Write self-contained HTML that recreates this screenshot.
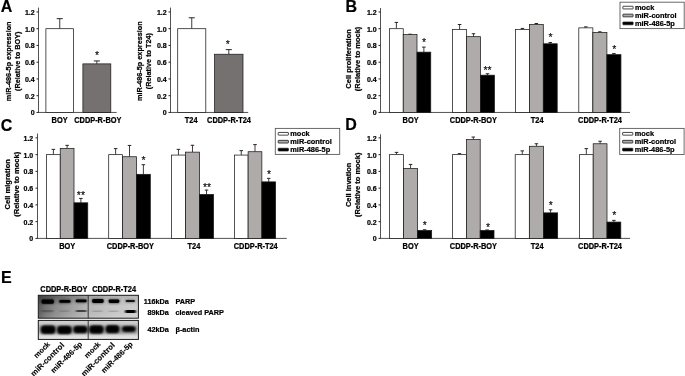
<!DOCTYPE html>
<html><head><meta charset="utf-8"><title>Figure</title>
<style>
html,body{margin:0;padding:0;background:#fff;}
svg{display:block;will-change:transform;}
text{fill:#000;stroke:#000;stroke-width:0.22px;stroke-linejoin:round;}
text.st{stroke:#222;stroke-width:0.15px;}
text.lt{stroke-width:0.1px;}
</style></head><body>
<svg width="685" height="376" viewBox="0 0 685 376">
<rect x="0" y="0" width="685" height="376" fill="#fff"/>
<text transform="translate(0.70,11.90) scale(1,1.03)" font-size="16" text-anchor="start" font-family="Liberation Sans, sans-serif" font-weight="bold">A</text>
<line x1="38.5" y1="7.6" x2="38.5" y2="112.45" stroke="#1a1a1a" stroke-width="0.75"/>
<line x1="38.1" y1="112.45" x2="116.7" y2="112.45" stroke="#1a1a1a" stroke-width="0.75"/>
<line x1="36.5" y1="112.45" x2="38.5" y2="112.45" stroke="#1a1a1a" stroke-width="0.95"/>
<text transform="translate(34.70,115.45)" font-size="7.0" text-anchor="end" font-family="Liberation Sans, sans-serif" font-weight="bold">0</text>
<line x1="36.5" y1="95.70" x2="38.5" y2="95.70" stroke="#1a1a1a" stroke-width="0.95"/>
<text transform="translate(34.70,98.70)" font-size="7.0" text-anchor="end" font-family="Liberation Sans, sans-serif" font-weight="bold">0.2</text>
<line x1="36.5" y1="78.95" x2="38.5" y2="78.95" stroke="#1a1a1a" stroke-width="0.95"/>
<text transform="translate(34.70,81.95)" font-size="7.0" text-anchor="end" font-family="Liberation Sans, sans-serif" font-weight="bold">0.4</text>
<line x1="36.5" y1="62.20" x2="38.5" y2="62.20" stroke="#1a1a1a" stroke-width="0.95"/>
<text transform="translate(34.70,65.20)" font-size="7.0" text-anchor="end" font-family="Liberation Sans, sans-serif" font-weight="bold">0.6</text>
<line x1="36.5" y1="45.45" x2="38.5" y2="45.45" stroke="#1a1a1a" stroke-width="0.95"/>
<text transform="translate(34.70,48.45)" font-size="7.0" text-anchor="end" font-family="Liberation Sans, sans-serif" font-weight="bold">0.8</text>
<line x1="36.5" y1="28.70" x2="38.5" y2="28.70" stroke="#1a1a1a" stroke-width="0.95"/>
<text transform="translate(34.70,31.70)" font-size="7.0" text-anchor="end" font-family="Liberation Sans, sans-serif" font-weight="bold">1.0</text>
<line x1="36.5" y1="11.95" x2="38.5" y2="11.95" stroke="#1a1a1a" stroke-width="0.95"/>
<text transform="translate(34.70,14.95)" font-size="7.0" text-anchor="end" font-family="Liberation Sans, sans-serif" font-weight="bold">1.2</text>
<line x1="59.75" y1="18.65" x2="59.75" y2="28.70" stroke="#1a1a1a" stroke-width="0.85"/>
<line x1="56.70" y1="18.65" x2="62.80" y2="18.65" stroke="#1a1a1a" stroke-width="0.95"/>
<rect x="45.90" y="28.70" width="27.70" height="83.75" fill="#fff" stroke="#1a1a1a" stroke-width="0.75"/>
<line x1="96.85" y1="60.94" x2="96.85" y2="63.88" stroke="#1a1a1a" stroke-width="0.85"/>
<line x1="93.80" y1="60.94" x2="99.90" y2="60.94" stroke="#1a1a1a" stroke-width="0.95"/>
<rect x="82.90" y="63.88" width="27.90" height="48.57" fill="#767171" stroke="#1a1a1a" stroke-width="0.75"/>
<text x="97.10" y="58.50" font-size="10.5" text-anchor="middle" class="st" font-family="Liberation Sans, sans-serif" fill="#222">*</text>
<text transform="translate(59.60,123.30) scale(1,1.13)" font-size="7.4" text-anchor="middle" font-family="Liberation Sans, sans-serif" font-weight="bold">BOY</text>
<text transform="translate(97.80,123.30) scale(1,1.13)" font-size="7.4" text-anchor="middle" font-family="Liberation Sans, sans-serif" font-weight="bold">CDDP-R-BOY</text>
<text transform="translate(10.80,61.30) rotate(-90) scale(1,1.05)" font-size="7.3" text-anchor="middle" font-family="Liberation Sans, sans-serif" font-weight="bold">miR-486-5p expression</text>
<text transform="translate(19.60,61.30) rotate(-90) scale(1,1.05)" font-size="7.3" text-anchor="middle" font-family="Liberation Sans, sans-serif" font-weight="bold">(Relative to BOY)</text>
<line x1="170.5" y1="7.6" x2="170.5" y2="112.45" stroke="#1a1a1a" stroke-width="0.75"/>
<line x1="170.1" y1="112.45" x2="248.2" y2="112.45" stroke="#1a1a1a" stroke-width="0.75"/>
<line x1="168.5" y1="112.45" x2="170.5" y2="112.45" stroke="#1a1a1a" stroke-width="0.95"/>
<text transform="translate(166.70,115.45)" font-size="7.0" text-anchor="end" font-family="Liberation Sans, sans-serif" font-weight="bold">0</text>
<line x1="168.5" y1="95.70" x2="170.5" y2="95.70" stroke="#1a1a1a" stroke-width="0.95"/>
<text transform="translate(166.70,98.70)" font-size="7.0" text-anchor="end" font-family="Liberation Sans, sans-serif" font-weight="bold">0.2</text>
<line x1="168.5" y1="78.95" x2="170.5" y2="78.95" stroke="#1a1a1a" stroke-width="0.95"/>
<text transform="translate(166.70,81.95)" font-size="7.0" text-anchor="end" font-family="Liberation Sans, sans-serif" font-weight="bold">0.4</text>
<line x1="168.5" y1="62.20" x2="170.5" y2="62.20" stroke="#1a1a1a" stroke-width="0.95"/>
<text transform="translate(166.70,65.20)" font-size="7.0" text-anchor="end" font-family="Liberation Sans, sans-serif" font-weight="bold">0.6</text>
<line x1="168.5" y1="45.45" x2="170.5" y2="45.45" stroke="#1a1a1a" stroke-width="0.95"/>
<text transform="translate(166.70,48.45)" font-size="7.0" text-anchor="end" font-family="Liberation Sans, sans-serif" font-weight="bold">0.8</text>
<line x1="168.5" y1="28.70" x2="170.5" y2="28.70" stroke="#1a1a1a" stroke-width="0.95"/>
<text transform="translate(166.70,31.70)" font-size="7.0" text-anchor="end" font-family="Liberation Sans, sans-serif" font-weight="bold">1.0</text>
<line x1="168.5" y1="11.95" x2="170.5" y2="11.95" stroke="#1a1a1a" stroke-width="0.95"/>
<text transform="translate(166.70,14.95)" font-size="7.0" text-anchor="end" font-family="Liberation Sans, sans-serif" font-weight="bold">1.2</text>
<line x1="191.75" y1="17.81" x2="191.75" y2="28.70" stroke="#1a1a1a" stroke-width="0.85"/>
<line x1="188.70" y1="17.81" x2="194.80" y2="17.81" stroke="#1a1a1a" stroke-width="0.95"/>
<rect x="177.70" y="28.70" width="28.10" height="83.75" fill="#fff" stroke="#1a1a1a" stroke-width="0.75"/>
<line x1="228.80" y1="49.64" x2="228.80" y2="54.24" stroke="#1a1a1a" stroke-width="0.85"/>
<line x1="225.75" y1="49.64" x2="231.85" y2="49.64" stroke="#1a1a1a" stroke-width="0.95"/>
<rect x="214.60" y="54.24" width="28.40" height="58.21" fill="#767171" stroke="#1a1a1a" stroke-width="0.75"/>
<text x="227.70" y="48.00" font-size="10.5" text-anchor="middle" class="st" font-family="Liberation Sans, sans-serif" fill="#222">*</text>
<text transform="translate(191.20,123.30) scale(1,1.13)" font-size="7.4" text-anchor="middle" font-family="Liberation Sans, sans-serif" font-weight="bold">T24</text>
<text transform="translate(229.00,123.30) scale(1,1.13)" font-size="7.4" text-anchor="middle" font-family="Liberation Sans, sans-serif" font-weight="bold">CDDP-R-T24</text>
<text transform="translate(142.00,61.10) rotate(-90) scale(1,1.05)" font-size="7.3" text-anchor="middle" font-family="Liberation Sans, sans-serif" font-weight="bold">miR-486-5p expression</text>
<text transform="translate(150.50,61.10) rotate(-90) scale(1,1.05)" font-size="7.3" text-anchor="middle" font-family="Liberation Sans, sans-serif" font-weight="bold">(Relative to T24)</text>
<text transform="translate(345.50,11.60) scale(1,1.03)" font-size="16" text-anchor="start" font-family="Liberation Sans, sans-serif" font-weight="bold">B</text>
<line x1="380.5" y1="8" x2="380.5" y2="112.45" stroke="#1a1a1a" stroke-width="0.75"/>
<line x1="380.1" y1="112.45" x2="630" y2="112.45" stroke="#1a1a1a" stroke-width="0.75"/>
<line x1="378.5" y1="112.45" x2="380.5" y2="112.45" stroke="#1a1a1a" stroke-width="0.95"/>
<text transform="translate(376.70,115.45)" font-size="7.0" text-anchor="end" font-family="Liberation Sans, sans-serif" font-weight="bold">0</text>
<line x1="378.5" y1="95.70" x2="380.5" y2="95.70" stroke="#1a1a1a" stroke-width="0.95"/>
<text transform="translate(376.70,98.70)" font-size="7.0" text-anchor="end" font-family="Liberation Sans, sans-serif" font-weight="bold">0.2</text>
<line x1="378.5" y1="78.95" x2="380.5" y2="78.95" stroke="#1a1a1a" stroke-width="0.95"/>
<text transform="translate(376.70,81.95)" font-size="7.0" text-anchor="end" font-family="Liberation Sans, sans-serif" font-weight="bold">0.4</text>
<line x1="378.5" y1="62.20" x2="380.5" y2="62.20" stroke="#1a1a1a" stroke-width="0.95"/>
<text transform="translate(376.70,65.20)" font-size="7.0" text-anchor="end" font-family="Liberation Sans, sans-serif" font-weight="bold">0.6</text>
<line x1="378.5" y1="45.45" x2="380.5" y2="45.45" stroke="#1a1a1a" stroke-width="0.95"/>
<text transform="translate(376.70,48.45)" font-size="7.0" text-anchor="end" font-family="Liberation Sans, sans-serif" font-weight="bold">0.8</text>
<line x1="378.5" y1="28.70" x2="380.5" y2="28.70" stroke="#1a1a1a" stroke-width="0.95"/>
<text transform="translate(376.70,31.70)" font-size="7.0" text-anchor="end" font-family="Liberation Sans, sans-serif" font-weight="bold">1.0</text>
<line x1="378.5" y1="11.95" x2="380.5" y2="11.95" stroke="#1a1a1a" stroke-width="0.95"/>
<text transform="translate(376.70,14.95)" font-size="7.0" text-anchor="end" font-family="Liberation Sans, sans-serif" font-weight="bold">1.2</text>
<line x1="396.38" y1="22.42" x2="396.38" y2="28.70" stroke="#1a1a1a" stroke-width="0.85"/>
<line x1="394.62" y1="22.42" x2="398.12" y2="22.42" stroke="#1a1a1a" stroke-width="0.95"/>
<rect x="389.50" y="28.70" width="13.75" height="83.75" fill="#fff" stroke="#1a1a1a" stroke-width="0.75"/>
<line x1="410.12" y1="34.23" x2="410.12" y2="34.56" stroke="#1a1a1a" stroke-width="0.85"/>
<line x1="408.38" y1="34.23" x2="411.88" y2="34.23" stroke="#1a1a1a" stroke-width="0.95"/>
<rect x="403.25" y="34.56" width="13.75" height="77.89" fill="#afabab" stroke="#1a1a1a" stroke-width="0.75"/>
<line x1="423.88" y1="47.12" x2="423.88" y2="52.15" stroke="#1a1a1a" stroke-width="0.85"/>
<line x1="422.12" y1="47.12" x2="425.62" y2="47.12" stroke="#1a1a1a" stroke-width="0.95"/>
<rect x="417.00" y="52.15" width="13.75" height="60.30" fill="#000" stroke="#1a1a1a" stroke-width="0.75"/>
<line x1="459.58" y1="24.51" x2="459.58" y2="29.54" stroke="#1a1a1a" stroke-width="0.85"/>
<line x1="457.83" y1="24.51" x2="461.33" y2="24.51" stroke="#1a1a1a" stroke-width="0.95"/>
<rect x="452.60" y="29.54" width="13.95" height="82.91" fill="#fff" stroke="#1a1a1a" stroke-width="0.75"/>
<line x1="473.52" y1="33.72" x2="473.52" y2="36.66" stroke="#1a1a1a" stroke-width="0.85"/>
<line x1="471.77" y1="33.72" x2="475.27" y2="33.72" stroke="#1a1a1a" stroke-width="0.95"/>
<rect x="466.55" y="36.66" width="13.95" height="75.79" fill="#afabab" stroke="#1a1a1a" stroke-width="0.75"/>
<line x1="487.48" y1="73.76" x2="487.48" y2="75.18" stroke="#1a1a1a" stroke-width="0.85"/>
<line x1="485.73" y1="73.76" x2="489.23" y2="73.76" stroke="#1a1a1a" stroke-width="0.95"/>
<rect x="480.50" y="75.18" width="13.95" height="37.27" fill="#000" stroke="#1a1a1a" stroke-width="0.75"/>
<line x1="522.45" y1="28.45" x2="522.45" y2="29.54" stroke="#1a1a1a" stroke-width="0.85"/>
<line x1="520.70" y1="28.45" x2="524.20" y2="28.45" stroke="#1a1a1a" stroke-width="0.95"/>
<rect x="515.50" y="29.54" width="13.90" height="82.91" fill="#fff" stroke="#1a1a1a" stroke-width="0.75"/>
<line x1="536.35" y1="23.51" x2="536.35" y2="24.51" stroke="#1a1a1a" stroke-width="0.85"/>
<line x1="534.60" y1="23.51" x2="538.10" y2="23.51" stroke="#1a1a1a" stroke-width="0.95"/>
<rect x="529.40" y="24.51" width="13.90" height="87.94" fill="#afabab" stroke="#1a1a1a" stroke-width="0.75"/>
<line x1="550.25" y1="42.52" x2="550.25" y2="43.78" stroke="#1a1a1a" stroke-width="0.85"/>
<line x1="548.50" y1="42.52" x2="552.00" y2="42.52" stroke="#1a1a1a" stroke-width="0.95"/>
<rect x="543.30" y="43.78" width="13.90" height="68.67" fill="#000" stroke="#1a1a1a" stroke-width="0.75"/>
<line x1="585.82" y1="26.86" x2="585.82" y2="27.86" stroke="#1a1a1a" stroke-width="0.85"/>
<line x1="584.07" y1="26.86" x2="587.57" y2="26.86" stroke="#1a1a1a" stroke-width="0.95"/>
<rect x="578.80" y="27.86" width="14.05" height="84.59" fill="#fff" stroke="#1a1a1a" stroke-width="0.75"/>
<line x1="599.88" y1="31.80" x2="599.88" y2="32.47" stroke="#1a1a1a" stroke-width="0.85"/>
<line x1="598.12" y1="31.80" x2="601.62" y2="31.80" stroke="#1a1a1a" stroke-width="0.95"/>
<rect x="592.85" y="32.47" width="14.05" height="79.98" fill="#afabab" stroke="#1a1a1a" stroke-width="0.75"/>
<line x1="613.92" y1="53.57" x2="613.92" y2="54.66" stroke="#1a1a1a" stroke-width="0.85"/>
<line x1="612.17" y1="53.57" x2="615.67" y2="53.57" stroke="#1a1a1a" stroke-width="0.95"/>
<rect x="606.90" y="54.66" width="14.05" height="57.79" fill="#000" stroke="#1a1a1a" stroke-width="0.75"/>
<text transform="translate(410.60,123.30) scale(1,1.13)" font-size="7.4" text-anchor="middle" font-family="Liberation Sans, sans-serif" font-weight="bold">BOY</text>
<text transform="translate(473.40,123.30) scale(1,1.13)" font-size="7.4" text-anchor="middle" font-family="Liberation Sans, sans-serif" font-weight="bold">CDDP-R-BOY</text>
<text transform="translate(537.20,123.30) scale(1,1.13)" font-size="7.4" text-anchor="middle" font-family="Liberation Sans, sans-serif" font-weight="bold">T24</text>
<text transform="translate(600.00,123.30) scale(1,1.13)" font-size="7.4" text-anchor="middle" font-family="Liberation Sans, sans-serif" font-weight="bold">CDDP-R-T24</text>
<text transform="translate(350.50,58.90) rotate(-90) scale(1,1.05)" font-size="7.5" text-anchor="middle" font-family="Liberation Sans, sans-serif" font-weight="bold">Cell proliferation</text>
<text transform="translate(359.50,58.90) rotate(-90) scale(1,1.05)" font-size="7.5" text-anchor="middle" font-family="Liberation Sans, sans-serif" font-weight="bold">(Relative to mock)</text>
<text x="424.10" y="46.00" font-size="10.5" text-anchor="middle" class="st" font-family="Liberation Sans, sans-serif" fill="#222">*</text>
<text x="487.60" y="73.80" font-size="10.5" text-anchor="middle" class="st" font-family="Liberation Sans, sans-serif" fill="#222">**</text>
<text x="550.60" y="41.00" font-size="10.5" text-anchor="middle" class="st" font-family="Liberation Sans, sans-serif" fill="#222">*</text>
<text x="614.30" y="52.50" font-size="10.5" text-anchor="middle" class="st" font-family="Liberation Sans, sans-serif" fill="#222">*</text>
<rect x="620.0" y="2.2" width="64.2" height="26.4" fill="#fff" stroke="#5a5a5a" stroke-width="0.9"/>
<rect x="622.9" y="6.25" width="10.2" height="2.7" rx="0.4" fill="#fff" stroke="#1a1a1a" stroke-width="0.8"/>
<text transform="translate(635.00,10.00)" font-size="7.4" text-anchor="start" font-family="Liberation Sans, sans-serif" font-weight="bold">mock</text>
<rect x="622.9" y="14.15" width="10.2" height="2.7" rx="0.4" fill="#afabab" stroke="#1a1a1a" stroke-width="0.8"/>
<text transform="translate(635.00,17.90)" font-size="7.4" text-anchor="start" font-family="Liberation Sans, sans-serif" font-weight="bold">miR-control</text>
<rect x="622.9" y="22.05" width="10.2" height="2.7" rx="0.4" fill="#000" stroke="#1a1a1a" stroke-width="0.8"/>
<text transform="translate(635.00,25.80)" font-size="7.4" text-anchor="start" font-family="Liberation Sans, sans-serif" font-weight="bold">miR-486-5p</text>
<text transform="translate(0.75,131.00) scale(1,1.03)" font-size="16" text-anchor="start" font-family="Liberation Sans, sans-serif" font-weight="bold">C</text>
<line x1="37.5" y1="133.5" x2="37.5" y2="238.4" stroke="#1a1a1a" stroke-width="0.75"/>
<line x1="37.1" y1="238.4" x2="286.8" y2="238.4" stroke="#1a1a1a" stroke-width="0.75"/>
<line x1="35.5" y1="238.40" x2="37.5" y2="238.40" stroke="#1a1a1a" stroke-width="0.95"/>
<text transform="translate(33.25,241.40)" font-size="7.0" text-anchor="end" font-family="Liberation Sans, sans-serif" font-weight="bold">0</text>
<line x1="35.5" y1="221.65" x2="37.5" y2="221.65" stroke="#1a1a1a" stroke-width="0.95"/>
<text transform="translate(33.25,224.65)" font-size="7.0" text-anchor="end" font-family="Liberation Sans, sans-serif" font-weight="bold">0.2</text>
<line x1="35.5" y1="204.90" x2="37.5" y2="204.90" stroke="#1a1a1a" stroke-width="0.95"/>
<text transform="translate(33.25,207.90)" font-size="7.0" text-anchor="end" font-family="Liberation Sans, sans-serif" font-weight="bold">0.4</text>
<line x1="35.5" y1="188.15" x2="37.5" y2="188.15" stroke="#1a1a1a" stroke-width="0.95"/>
<text transform="translate(33.25,191.15)" font-size="7.0" text-anchor="end" font-family="Liberation Sans, sans-serif" font-weight="bold">0.6</text>
<line x1="35.5" y1="171.40" x2="37.5" y2="171.40" stroke="#1a1a1a" stroke-width="0.95"/>
<text transform="translate(33.25,174.40)" font-size="7.0" text-anchor="end" font-family="Liberation Sans, sans-serif" font-weight="bold">0.8</text>
<line x1="35.5" y1="154.65" x2="37.5" y2="154.65" stroke="#1a1a1a" stroke-width="0.95"/>
<text transform="translate(33.25,157.65)" font-size="7.0" text-anchor="end" font-family="Liberation Sans, sans-serif" font-weight="bold">1.0</text>
<line x1="35.5" y1="137.90" x2="37.5" y2="137.90" stroke="#1a1a1a" stroke-width="0.95"/>
<text transform="translate(33.25,140.90)" font-size="7.0" text-anchor="end" font-family="Liberation Sans, sans-serif" font-weight="bold">1.2</text>
<line x1="53.38" y1="149.37" x2="53.38" y2="154.65" stroke="#1a1a1a" stroke-width="0.85"/>
<line x1="51.62" y1="149.37" x2="55.12" y2="149.37" stroke="#1a1a1a" stroke-width="0.95"/>
<rect x="46.50" y="154.65" width="13.75" height="83.75" fill="#fff" stroke="#1a1a1a" stroke-width="0.75"/>
<line x1="67.12" y1="145.35" x2="67.12" y2="148.37" stroke="#1a1a1a" stroke-width="0.85"/>
<line x1="65.38" y1="145.35" x2="68.88" y2="145.35" stroke="#1a1a1a" stroke-width="0.95"/>
<rect x="60.25" y="148.37" width="13.75" height="90.03" fill="#afabab" stroke="#1a1a1a" stroke-width="0.75"/>
<line x1="80.88" y1="198.45" x2="80.88" y2="202.81" stroke="#1a1a1a" stroke-width="0.85"/>
<line x1="79.12" y1="198.45" x2="82.62" y2="198.45" stroke="#1a1a1a" stroke-width="0.95"/>
<rect x="74.00" y="202.81" width="13.75" height="35.59" fill="#000" stroke="#1a1a1a" stroke-width="0.75"/>
<line x1="115.64" y1="148.62" x2="115.64" y2="154.65" stroke="#1a1a1a" stroke-width="0.85"/>
<line x1="113.89" y1="148.62" x2="117.39" y2="148.62" stroke="#1a1a1a" stroke-width="0.95"/>
<rect x="108.70" y="154.65" width="13.87" height="83.75" fill="#fff" stroke="#1a1a1a" stroke-width="0.75"/>
<line x1="129.50" y1="145.44" x2="129.50" y2="156.74" stroke="#1a1a1a" stroke-width="0.85"/>
<line x1="127.75" y1="145.44" x2="131.25" y2="145.44" stroke="#1a1a1a" stroke-width="0.95"/>
<rect x="122.57" y="156.74" width="13.87" height="81.66" fill="#afabab" stroke="#1a1a1a" stroke-width="0.75"/>
<line x1="143.38" y1="164.70" x2="143.38" y2="174.33" stroke="#1a1a1a" stroke-width="0.85"/>
<line x1="141.62" y1="164.70" x2="145.12" y2="164.70" stroke="#1a1a1a" stroke-width="0.95"/>
<rect x="136.44" y="174.33" width="13.87" height="64.07" fill="#000" stroke="#1a1a1a" stroke-width="0.75"/>
<line x1="178.43" y1="149.37" x2="178.43" y2="155.07" stroke="#1a1a1a" stroke-width="0.85"/>
<line x1="176.68" y1="149.37" x2="180.18" y2="149.37" stroke="#1a1a1a" stroke-width="0.95"/>
<rect x="171.40" y="155.07" width="14.05" height="83.33" fill="#fff" stroke="#1a1a1a" stroke-width="0.75"/>
<line x1="192.48" y1="145.27" x2="192.48" y2="152.14" stroke="#1a1a1a" stroke-width="0.85"/>
<line x1="190.73" y1="145.27" x2="194.23" y2="145.27" stroke="#1a1a1a" stroke-width="0.95"/>
<rect x="185.45" y="152.14" width="14.05" height="86.26" fill="#afabab" stroke="#1a1a1a" stroke-width="0.75"/>
<line x1="206.53" y1="190.08" x2="206.53" y2="194.43" stroke="#1a1a1a" stroke-width="0.85"/>
<line x1="204.78" y1="190.08" x2="208.28" y2="190.08" stroke="#1a1a1a" stroke-width="0.95"/>
<rect x="199.50" y="194.43" width="14.05" height="43.97" fill="#000" stroke="#1a1a1a" stroke-width="0.75"/>
<line x1="241.26" y1="150.63" x2="241.26" y2="155.07" stroke="#1a1a1a" stroke-width="0.85"/>
<line x1="239.51" y1="150.63" x2="243.01" y2="150.63" stroke="#1a1a1a" stroke-width="0.95"/>
<rect x="234.40" y="155.07" width="13.73" height="83.33" fill="#fff" stroke="#1a1a1a" stroke-width="0.75"/>
<line x1="255.00" y1="144.60" x2="255.00" y2="151.72" stroke="#1a1a1a" stroke-width="0.85"/>
<line x1="253.25" y1="144.60" x2="256.75" y2="144.60" stroke="#1a1a1a" stroke-width="0.95"/>
<rect x="248.13" y="151.72" width="13.73" height="86.68" fill="#afabab" stroke="#1a1a1a" stroke-width="0.75"/>
<line x1="268.73" y1="178.35" x2="268.73" y2="181.87" stroke="#1a1a1a" stroke-width="0.85"/>
<line x1="266.98" y1="178.35" x2="270.48" y2="178.35" stroke="#1a1a1a" stroke-width="0.95"/>
<rect x="261.86" y="181.87" width="13.73" height="56.53" fill="#000" stroke="#1a1a1a" stroke-width="0.75"/>
<text transform="translate(67.20,249.00) scale(1,1.13)" font-size="7.4" text-anchor="middle" font-family="Liberation Sans, sans-serif" font-weight="bold">BOY</text>
<text transform="translate(130.30,249.00) scale(1,1.13)" font-size="7.4" text-anchor="middle" font-family="Liberation Sans, sans-serif" font-weight="bold">CDDP-R-BOY</text>
<text transform="translate(193.90,249.00) scale(1,1.13)" font-size="7.4" text-anchor="middle" font-family="Liberation Sans, sans-serif" font-weight="bold">T24</text>
<text transform="translate(255.70,249.00) scale(1,1.13)" font-size="7.4" text-anchor="middle" font-family="Liberation Sans, sans-serif" font-weight="bold">CDDP-R-T24</text>
<text transform="translate(10.00,184.30) rotate(-90) scale(1,1.05)" font-size="7.55" text-anchor="middle" font-family="Liberation Sans, sans-serif" font-weight="bold">Cell migration</text>
<text transform="translate(19.00,184.30) rotate(-90) scale(1,1.05)" font-size="7.55" text-anchor="middle" font-family="Liberation Sans, sans-serif" font-weight="bold">(Relative to mock)</text>
<text x="80.90" y="199.40" font-size="10.5" text-anchor="middle" class="st" font-family="Liberation Sans, sans-serif" fill="#222">**</text>
<text x="143.60" y="163.70" font-size="10.5" text-anchor="middle" class="st" font-family="Liberation Sans, sans-serif" fill="#222">*</text>
<text x="207.10" y="190.80" font-size="10.5" text-anchor="middle" class="st" font-family="Liberation Sans, sans-serif" fill="#222">**</text>
<text x="269.10" y="178.00" font-size="10.5" text-anchor="middle" class="st" font-family="Liberation Sans, sans-serif" fill="#222">*</text>
<rect x="275.3" y="128.4" width="64.4" height="26.0" fill="#fff" stroke="#5a5a5a" stroke-width="0.9"/>
<rect x="278.2" y="132.45" width="10.2" height="2.7" rx="0.4" fill="#fff" stroke="#1a1a1a" stroke-width="0.8"/>
<text transform="translate(290.30,136.20)" font-size="7.4" text-anchor="start" font-family="Liberation Sans, sans-serif" font-weight="bold">mock</text>
<rect x="278.2" y="140.35" width="10.2" height="2.7" rx="0.4" fill="#afabab" stroke="#1a1a1a" stroke-width="0.8"/>
<text transform="translate(290.30,144.10)" font-size="7.4" text-anchor="start" font-family="Liberation Sans, sans-serif" font-weight="bold">miR-control</text>
<rect x="278.2" y="148.25" width="10.2" height="2.7" rx="0.4" fill="#000" stroke="#1a1a1a" stroke-width="0.8"/>
<text transform="translate(290.30,152.00)" font-size="7.4" text-anchor="start" font-family="Liberation Sans, sans-serif" font-weight="bold">miR-486-5p</text>
<text transform="translate(345.30,130.40) scale(1,1.03)" font-size="16" text-anchor="start" font-family="Liberation Sans, sans-serif" font-weight="bold">D</text>
<line x1="380.5" y1="134.3" x2="380.5" y2="238.4" stroke="#1a1a1a" stroke-width="0.75"/>
<line x1="380.1" y1="238.4" x2="630" y2="238.4" stroke="#1a1a1a" stroke-width="0.75"/>
<line x1="378.5" y1="238.40" x2="380.5" y2="238.40" stroke="#1a1a1a" stroke-width="0.95"/>
<text transform="translate(376.70,241.40)" font-size="7.0" text-anchor="end" font-family="Liberation Sans, sans-serif" font-weight="bold">0</text>
<line x1="378.5" y1="221.65" x2="380.5" y2="221.65" stroke="#1a1a1a" stroke-width="0.95"/>
<text transform="translate(376.70,224.65)" font-size="7.0" text-anchor="end" font-family="Liberation Sans, sans-serif" font-weight="bold">0.2</text>
<line x1="378.5" y1="204.90" x2="380.5" y2="204.90" stroke="#1a1a1a" stroke-width="0.95"/>
<text transform="translate(376.70,207.90)" font-size="7.0" text-anchor="end" font-family="Liberation Sans, sans-serif" font-weight="bold">0.4</text>
<line x1="378.5" y1="188.15" x2="380.5" y2="188.15" stroke="#1a1a1a" stroke-width="0.95"/>
<text transform="translate(376.70,191.15)" font-size="7.0" text-anchor="end" font-family="Liberation Sans, sans-serif" font-weight="bold">0.6</text>
<line x1="378.5" y1="171.40" x2="380.5" y2="171.40" stroke="#1a1a1a" stroke-width="0.95"/>
<text transform="translate(376.70,174.40)" font-size="7.0" text-anchor="end" font-family="Liberation Sans, sans-serif" font-weight="bold">0.8</text>
<line x1="378.5" y1="154.65" x2="380.5" y2="154.65" stroke="#1a1a1a" stroke-width="0.95"/>
<text transform="translate(376.70,157.65)" font-size="7.0" text-anchor="end" font-family="Liberation Sans, sans-serif" font-weight="bold">1.0</text>
<line x1="378.5" y1="137.90" x2="380.5" y2="137.90" stroke="#1a1a1a" stroke-width="0.95"/>
<text transform="translate(376.70,140.90)" font-size="7.0" text-anchor="end" font-family="Liberation Sans, sans-serif" font-weight="bold">1.2</text>
<line x1="396.52" y1="152.39" x2="396.52" y2="154.65" stroke="#1a1a1a" stroke-width="0.85"/>
<line x1="394.77" y1="152.39" x2="398.27" y2="152.39" stroke="#1a1a1a" stroke-width="0.95"/>
<rect x="389.50" y="154.65" width="14.05" height="83.75" fill="#fff" stroke="#1a1a1a" stroke-width="0.75"/>
<line x1="410.58" y1="164.45" x2="410.58" y2="168.47" stroke="#1a1a1a" stroke-width="0.85"/>
<line x1="408.83" y1="164.45" x2="412.33" y2="164.45" stroke="#1a1a1a" stroke-width="0.95"/>
<rect x="403.55" y="168.47" width="14.05" height="69.93" fill="#afabab" stroke="#1a1a1a" stroke-width="0.75"/>
<line x1="424.62" y1="229.77" x2="424.62" y2="230.44" stroke="#1a1a1a" stroke-width="0.85"/>
<line x1="422.88" y1="229.77" x2="426.38" y2="229.77" stroke="#1a1a1a" stroke-width="0.95"/>
<rect x="417.60" y="230.44" width="14.05" height="7.96" fill="#000" stroke="#1a1a1a" stroke-width="0.75"/>
<line x1="459.50" y1="153.65" x2="459.50" y2="154.65" stroke="#1a1a1a" stroke-width="0.85"/>
<line x1="457.75" y1="153.65" x2="461.25" y2="153.65" stroke="#1a1a1a" stroke-width="0.95"/>
<rect x="452.60" y="154.65" width="13.80" height="83.75" fill="#fff" stroke="#1a1a1a" stroke-width="0.75"/>
<line x1="473.30" y1="137.06" x2="473.30" y2="139.58" stroke="#1a1a1a" stroke-width="0.85"/>
<line x1="471.55" y1="137.06" x2="475.05" y2="137.06" stroke="#1a1a1a" stroke-width="0.95"/>
<rect x="466.40" y="139.58" width="13.80" height="98.82" fill="#afabab" stroke="#1a1a1a" stroke-width="0.75"/>
<line x1="487.10" y1="229.94" x2="487.10" y2="230.44" stroke="#1a1a1a" stroke-width="0.85"/>
<line x1="485.35" y1="229.94" x2="488.85" y2="229.94" stroke="#1a1a1a" stroke-width="0.95"/>
<rect x="480.20" y="230.44" width="13.80" height="7.96" fill="#000" stroke="#1a1a1a" stroke-width="0.75"/>
<line x1="522.28" y1="150.88" x2="522.28" y2="154.65" stroke="#1a1a1a" stroke-width="0.85"/>
<line x1="520.53" y1="150.88" x2="524.03" y2="150.88" stroke="#1a1a1a" stroke-width="0.95"/>
<rect x="515.20" y="154.65" width="14.15" height="83.75" fill="#fff" stroke="#1a1a1a" stroke-width="0.75"/>
<line x1="536.42" y1="143.76" x2="536.42" y2="146.27" stroke="#1a1a1a" stroke-width="0.85"/>
<line x1="534.67" y1="143.76" x2="538.17" y2="143.76" stroke="#1a1a1a" stroke-width="0.95"/>
<rect x="529.35" y="146.27" width="14.15" height="92.13" fill="#afabab" stroke="#1a1a1a" stroke-width="0.75"/>
<line x1="550.58" y1="209.84" x2="550.58" y2="212.86" stroke="#1a1a1a" stroke-width="0.85"/>
<line x1="548.83" y1="209.84" x2="552.33" y2="209.84" stroke="#1a1a1a" stroke-width="0.95"/>
<rect x="543.50" y="212.86" width="14.15" height="25.54" fill="#000" stroke="#1a1a1a" stroke-width="0.75"/>
<line x1="586.30" y1="148.62" x2="586.30" y2="154.65" stroke="#1a1a1a" stroke-width="0.85"/>
<line x1="584.55" y1="148.62" x2="588.05" y2="148.62" stroke="#1a1a1a" stroke-width="0.95"/>
<rect x="579.40" y="154.65" width="13.80" height="83.75" fill="#fff" stroke="#1a1a1a" stroke-width="0.75"/>
<line x1="600.10" y1="141.25" x2="600.10" y2="143.76" stroke="#1a1a1a" stroke-width="0.85"/>
<line x1="598.35" y1="141.25" x2="601.85" y2="141.25" stroke="#1a1a1a" stroke-width="0.95"/>
<rect x="593.20" y="143.76" width="13.80" height="94.64" fill="#afabab" stroke="#1a1a1a" stroke-width="0.75"/>
<line x1="613.90" y1="220.39" x2="613.90" y2="222.07" stroke="#1a1a1a" stroke-width="0.85"/>
<line x1="612.15" y1="220.39" x2="615.65" y2="220.39" stroke="#1a1a1a" stroke-width="0.95"/>
<rect x="607.00" y="222.07" width="13.80" height="16.33" fill="#000" stroke="#1a1a1a" stroke-width="0.75"/>
<text transform="translate(410.60,249.00) scale(1,1.13)" font-size="7.4" text-anchor="middle" font-family="Liberation Sans, sans-serif" font-weight="bold">BOY</text>
<text transform="translate(473.40,249.00) scale(1,1.13)" font-size="7.4" text-anchor="middle" font-family="Liberation Sans, sans-serif" font-weight="bold">CDDP-R-BOY</text>
<text transform="translate(537.20,249.00) scale(1,1.13)" font-size="7.4" text-anchor="middle" font-family="Liberation Sans, sans-serif" font-weight="bold">T24</text>
<text transform="translate(600.00,249.00) scale(1,1.13)" font-size="7.4" text-anchor="middle" font-family="Liberation Sans, sans-serif" font-weight="bold">CDDP-R-T24</text>
<text transform="translate(350.50,184.80) rotate(-90) scale(1,1.05)" font-size="7.5" text-anchor="middle" font-family="Liberation Sans, sans-serif" font-weight="bold">Cell invation</text>
<text transform="translate(359.50,184.80) rotate(-90) scale(1,1.05)" font-size="7.5" text-anchor="middle" font-family="Liberation Sans, sans-serif" font-weight="bold">(Relative to mock)</text>
<text x="424.90" y="229.20" font-size="10.5" text-anchor="middle" class="st" font-family="Liberation Sans, sans-serif" fill="#222">*</text>
<text x="488.10" y="230.50" font-size="10.5" text-anchor="middle" class="st" font-family="Liberation Sans, sans-serif" fill="#222">*</text>
<text x="550.90" y="209.10" font-size="10.5" text-anchor="middle" class="st" font-family="Liberation Sans, sans-serif" fill="#222">*</text>
<text x="614.30" y="218.70" font-size="10.5" text-anchor="middle" class="st" font-family="Liberation Sans, sans-serif" fill="#222">*</text>
<rect x="619.7" y="128.4" width="64.4" height="26.1" fill="#fff" stroke="#5a5a5a" stroke-width="0.9"/>
<rect x="622.6" y="132.45" width="10.2" height="2.7" rx="0.4" fill="#fff" stroke="#1a1a1a" stroke-width="0.8"/>
<text transform="translate(634.70,136.20)" font-size="7.4" text-anchor="start" font-family="Liberation Sans, sans-serif" font-weight="bold">mock</text>
<rect x="622.6" y="140.35" width="10.2" height="2.7" rx="0.4" fill="#afabab" stroke="#1a1a1a" stroke-width="0.8"/>
<text transform="translate(634.70,144.10)" font-size="7.4" text-anchor="start" font-family="Liberation Sans, sans-serif" font-weight="bold">miR-control</text>
<rect x="622.6" y="148.25" width="10.2" height="2.7" rx="0.4" fill="#000" stroke="#1a1a1a" stroke-width="0.8"/>
<text transform="translate(634.70,152.00)" font-size="7.4" text-anchor="start" font-family="Liberation Sans, sans-serif" font-weight="bold">miR-486-5p</text>
<text transform="translate(1.00,283.40) scale(1,1.03)" font-size="16" text-anchor="start" font-family="Liberation Sans, sans-serif" font-weight="bold">E</text>
<defs>
<linearGradient id="bg1" x1="0" y1="0" x2="1" y2="0">
<stop offset="0" stop-color="#5c5c5c"/><stop offset="0.07" stop-color="#767676"/><stop offset="0.17" stop-color="#8e8e8e"/><stop offset="0.32" stop-color="#a4a4a4"/><stop offset="0.5" stop-color="#bcbcbc"/><stop offset="0.75" stop-color="#cbcbcb"/><stop offset="1" stop-color="#d4d4d4"/>
</linearGradient>
<linearGradient id="bg1v" x1="0" y1="0" x2="0" y2="1">
<stop offset="0" stop-color="#000" stop-opacity="0.14"/><stop offset="0.5" stop-color="#000" stop-opacity="0.02"/><stop offset="1" stop-color="#fff" stop-opacity="0.10"/>
</linearGradient>
<radialGradient id="bg1r" cx="0.08" cy="0.0" r="0.45"><stop offset="0" stop-color="#000" stop-opacity="0.28"/><stop offset="1" stop-color="#000" stop-opacity="0"/></radialGradient>
<linearGradient id="bg2" x1="0" y1="0" x2="0" y2="1">
<stop offset="0" stop-color="#d2d2d2"/><stop offset="0.45" stop-color="#bdbdbd"/><stop offset="1" stop-color="#ececec"/>
</linearGradient>
<filter id="bl1" x="-30%" y="-80%" width="160%" height="260%"><feGaussianBlur stdDeviation="0.7"/></filter>
<filter id="bl1s" x="-30%" y="-80%" width="160%" height="260%"><feGaussianBlur stdDeviation="0.9 0.6"/></filter>
<filter id="bl2" x="-30%" y="-80%" width="160%" height="260%"><feGaussianBlur stdDeviation="1.15"/></filter>
<filter id="bl3" x="-30%" y="-80%" width="160%" height="260%"><feGaussianBlur stdDeviation="0.9"/></filter>
<clipPath id="c1"><rect x="38.3" y="295.3" width="100.1" height="22.9"/></clipPath>
<clipPath id="c2"><rect x="38.3" y="320.4" width="100.1" height="19.0"/></clipPath>
</defs>
<text transform="translate(63.90,292.20) scale(1,1.13)" font-size="7.4" text-anchor="middle" font-family="Liberation Sans, sans-serif" font-weight="bold">CDDP-R-BOY</text>
<text transform="translate(114.10,292.20) scale(1,1.13)" font-size="7.4" text-anchor="middle" font-family="Liberation Sans, sans-serif" font-weight="bold">CDDP-R-T24</text>
<g clip-path="url(#c1)">
<rect x="38.3" y="295.3" width="100.10000000000001" height="22.9" fill="url(#bg1)"/>
<rect x="38.3" y="295.3" width="100.10000000000001" height="22.9" fill="url(#bg1v)"/>
<rect x="38.3" y="295.3" width="100.10000000000001" height="22.9" fill="url(#bg1r)"/>
<rect x="41.20" y="299.10" width="13.0" height="5.0" rx="1.6" fill="#000" opacity="0.55" filter="url(#bl3)"/>
<rect x="41.60" y="299.50" width="12.2" height="4.2" rx="1.4" fill="#000" opacity="1.0" filter="url(#bl1)"/>
<rect x="58.90" y="299.55" width="12.0" height="3.7" rx="1.6" fill="#000" opacity="0.55" filter="url(#bl3)"/>
<rect x="59.30" y="299.95" width="11.2" height="2.9" rx="1.4" fill="#000" opacity="1.0" filter="url(#bl1)"/>
<rect x="75.30" y="299.15" width="11.8" height="3.5" rx="1.6" fill="#000" opacity="0.55" filter="url(#bl3)"/>
<rect x="75.70" y="299.55" width="11.0" height="2.7" rx="1.4" fill="#000" opacity="1.0" filter="url(#bl1)"/>
<rect x="91.80" y="298.65" width="12.2" height="4.7" rx="1.6" fill="#000" opacity="0.55" filter="url(#bl3)"/>
<rect x="92.20" y="299.05" width="11.399999999999999" height="3.9" rx="1.4" fill="#000" opacity="1.0" filter="url(#bl1)"/>
<rect x="108.30" y="299.00" width="11.4" height="4.4" rx="1.6" fill="#000" opacity="0.55" filter="url(#bl3)"/>
<rect x="108.70" y="299.40" width="10.6" height="3.6" rx="1.4" fill="#000" opacity="1.0" filter="url(#bl1)"/>
<rect x="125.20" y="299.70" width="10.2" height="2.6" rx="1.6" fill="#000" opacity="0.47" filter="url(#bl3)"/>
<rect x="125.60" y="300.10" width="9.399999999999999" height="1.8" rx="1.4" fill="#000" opacity="0.85" filter="url(#bl1)"/>
<rect x="41.50" y="310.10" width="12.0" height="2.2" rx="1" fill="#000" opacity="0.24" filter="url(#bl1s)"/>
<rect x="59.25" y="310.30" width="10.5" height="1.8" rx="1" fill="#000" opacity="0.12" filter="url(#bl1s)"/>
<rect x="75.90" y="310.10" width="10.8" height="1.8" rx="1" fill="#000" opacity="0.62" filter="url(#bl1s)"/>
<rect x="92.25" y="310.40" width="10.5" height="1.6" rx="1" fill="#000" opacity="0.16" filter="url(#bl1s)"/>
<rect x="108.50" y="310.40" width="10.0" height="1.6" rx="1" fill="#000" opacity="0.16" filter="url(#bl1s)"/>
<rect x="125.10" y="310.00" width="10.8" height="3.0" rx="1" fill="#000" opacity="1.0" filter="url(#bl1s)"/>
</g>
<g clip-path="url(#c2)">
<rect x="38.3" y="320.4" width="100.10000000000001" height="19.0" fill="url(#bg2)"/>
<rect x="39.5" y="325.6" width="97.5" height="8.2" fill="#555" opacity="0.5" filter="url(#bl2)"/>
<rect x="41.00" y="325.60" width="14.2" height="8.2" rx="3" fill="#000" opacity="0.85" filter="url(#bl2)"/>
<rect x="41.80" y="326.40" width="12.6" height="6.6" rx="2.6" fill="#000" filter="url(#bl3)"/>
<rect x="57.40" y="325.90" width="14.0" height="8.2" rx="3" fill="#000" opacity="0.85" filter="url(#bl2)"/>
<rect x="58.20" y="326.70" width="12.4" height="6.6" rx="2.6" fill="#000" filter="url(#bl3)"/>
<rect x="73.60" y="325.90" width="13.6" height="7.2" rx="3" fill="#000" opacity="0.85" filter="url(#bl2)"/>
<rect x="74.40" y="326.70" width="12.0" height="5.6" rx="2.6" fill="#000" filter="url(#bl3)"/>
<rect x="89.50" y="325.50" width="13.8" height="8.0" rx="3" fill="#000" opacity="0.85" filter="url(#bl2)"/>
<rect x="90.30" y="326.30" width="12.200000000000001" height="6.4" rx="2.6" fill="#000" filter="url(#bl3)"/>
<rect x="105.90" y="325.30" width="13.2" height="7.8" rx="3" fill="#000" opacity="0.85" filter="url(#bl2)"/>
<rect x="106.70" y="326.10" width="11.6" height="6.199999999999999" rx="2.6" fill="#000" filter="url(#bl3)"/>
<rect x="122.10" y="326.20" width="13.4" height="5.6" rx="3" fill="#000" opacity="0.85" filter="url(#bl2)"/>
<rect x="122.90" y="327.00" width="11.8" height="3.9999999999999996" rx="2.6" fill="#000" filter="url(#bl3)"/>
</g>
<rect x="38.3" y="295.3" width="100.10000000000001" height="22.9" fill="none" stroke="#161616" stroke-width="1.0"/>
<rect x="38.3" y="320.4" width="100.10000000000001" height="19.0" fill="none" stroke="#161616" stroke-width="1.0"/>
<line x1="88.2" y1="295.3" x2="88.2" y2="318.2" stroke="#161616" stroke-width="0.8"/>
<line x1="88.2" y1="320.4" x2="88.2" y2="339.4" stroke="#161616" stroke-width="0.8"/>
<text transform="translate(168.80,303.70) scale(1,1.05)" font-size="7.25" text-anchor="end" font-family="Liberation Sans, sans-serif" font-weight="bold">116kDa</text>
<text transform="translate(168.80,314.90) scale(1,1.05)" font-size="7.25" text-anchor="end" font-family="Liberation Sans, sans-serif" font-weight="bold">89kDa</text>
<text transform="translate(168.80,331.80) scale(1,1.05)" font-size="7.25" text-anchor="end" font-family="Liberation Sans, sans-serif" font-weight="bold">42kDa</text>
<text transform="translate(175.50,303.70) scale(1,1.05)" font-size="7.3" text-anchor="start" font-family="Liberation Sans, sans-serif" font-weight="bold">PARP</text>
<text transform="translate(175.50,314.90) scale(1,1.05)" font-size="7.3" text-anchor="start" font-family="Liberation Sans, sans-serif" font-weight="bold">cleaved PARP</text>
<text transform="translate(175.50,331.80) scale(1,1.05)" font-size="7.3" text-anchor="start" font-family="Liberation Sans, sans-serif" font-weight="bold">β-actin</text>
<text transform="translate(50.50,344.80) rotate(-45)" font-size="7.4" text-anchor="end" class="lt" font-family="Liberation Sans, sans-serif" font-weight="bold">mock</text>
<text transform="translate(64.70,345.80) rotate(-45)" font-size="7.8" text-anchor="end" class="lt" font-family="Liberation Sans, sans-serif" font-weight="bold">miR-control</text>
<text transform="translate(82.70,344.60) rotate(-45)" font-size="7.6" text-anchor="end" class="lt" font-family="Liberation Sans, sans-serif" font-weight="bold">miR-486-5p</text>
<text transform="translate(101.00,344.80) rotate(-45)" font-size="7.4" text-anchor="end" class="lt" font-family="Liberation Sans, sans-serif" font-weight="bold">mock</text>
<text transform="translate(115.20,345.80) rotate(-45)" font-size="7.8" text-anchor="end" class="lt" font-family="Liberation Sans, sans-serif" font-weight="bold">miR-control</text>
<text transform="translate(133.20,344.60) rotate(-45)" font-size="7.6" text-anchor="end" class="lt" font-family="Liberation Sans, sans-serif" font-weight="bold">miR-486-5p</text>
</svg>
</body></html>
